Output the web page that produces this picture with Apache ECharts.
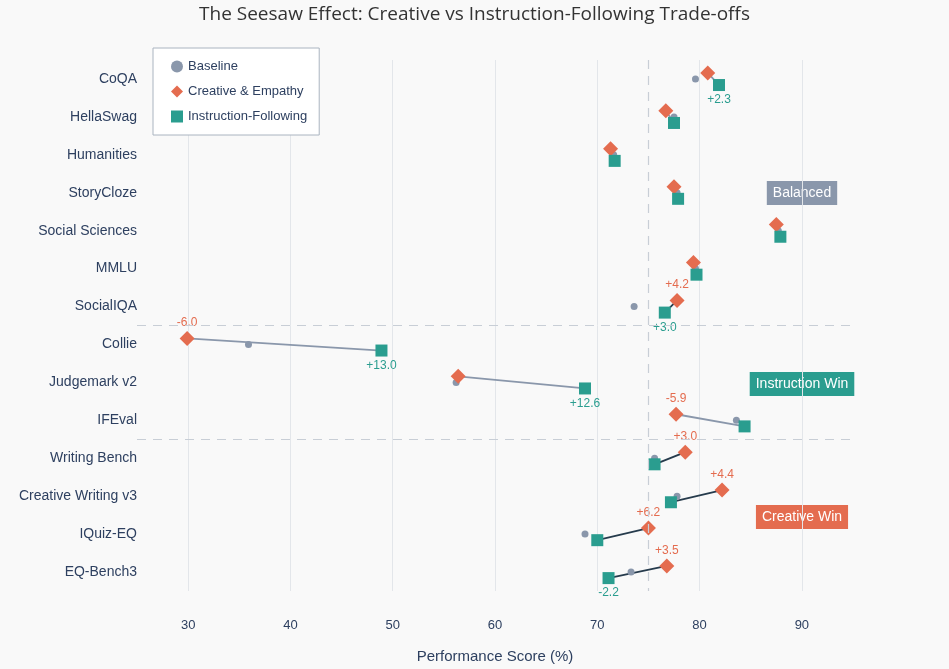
<!DOCTYPE html>
<html>
<head>
<meta charset="utf-8">
<script src="https://cdn.jsdelivr.net/npm/echarts@6/dist/echarts.min.js"></script>
<style>html,body{margin:0;background:#f9f9f9}#chart{width:949px;height:669px}</style>
</head>
<body>
<div id="chart"></div>
<script>
// data, top row first
const benchmarks = ['CoQA', 'HellaSwag', 'Humanities', 'StoryCloze', 'Social Sciences', 'MMLU', 'SocialIQA',
  'Collie', 'Judgemark v2', 'IFEval', 'Writing Bench', 'Creative Writing v3', 'IQuiz-EQ', 'EQ-Bench3'];
const baseline = [79.6, 77.5, 71.6, 77.8, 87.7, 79.6, 73.6, 35.9, 56.2, 83.6, 75.6, 77.8, 68.8, 73.3];
const creative = [80.8, 76.7, 71.3, 77.5, 87.5, 79.4, 77.8, 29.9, 56.4, 77.7, 78.6, 82.2, 75.0, 76.8];
const instruct = [81.9, 77.5, 71.7, 77.9, 87.9, 79.7, 76.6, 48.9, 68.8, 84.4, 75.6, 77.2, 70.0, 71.1];
const groups = ['Balanced', 'Balanced', 'Balanced', 'Balanced', 'Balanced', 'Balanced', 'Balanced',
  'Instruction Win', 'Instruction Win', 'Instruction Win', 'Creative Win', 'Creative Win', 'Creative Win', 'Creative Win'];

const C_BASE = '#8a97ab', C_CRE = '#e46c4f', C_IF = '#2a9d8f', C_DARK = '#263b4c', C_TXT = '#2e4060';
const OFF = 0.16;

const fmtDelta = d => (d > 0 ? '+' : '') + d.toFixed(1);
const delta = (arr, i) => Math.round((arr[i] - baseline[i]) * 10) / 10;

const lineSeries = benchmarks.map((b, i) => ({
  type: 'line', yAxisIndex: 1, silent: true, symbol: 'none', z: 1,
  lineStyle: { width: 1.8, color: (i === 6 || groups[i] === 'Creative Win') ? C_DARK : C_BASE },
  data: [[creative[i], i - OFF], [instruct[i], i + OFF]]
}));

const chart = echarts.init(document.getElementById('chart'));
chart.setOption({
  backgroundColor: '#f9f9f9',
  animation: false,
  title: { text: 'The Seesaw Effect: Creative vs Instruction-Following Trade-offs', left: 'center', top: 0,
    textStyle: { fontFamily: 'Open Sans', fontSize: 19, fontWeight: 'normal', color: '#333' } },
  legend: {
    orient: 'vertical', left: 153, top: 48, padding: [12, 12, 12, 18], itemGap: 12,
    backgroundColor: '#fff', borderColor: '#aab4c0', borderWidth: 1,
    textStyle: { fontSize: 13, color: C_TXT },
    data: [
      { name: 'Baseline', icon: 'circle', itemStyle: { color: C_BASE } },
      { name: 'Creative & Empathy', icon: 'diamond', itemStyle: { color: C_CRE } },
      { name: 'Instruction-Following', icon: 'rect', itemStyle: { color: C_IF } }
    ],
    itemWidth: 12, itemHeight: 12
  },
  grid: { left: 137, right: 96, top: 60, height: 533 },
  xAxis: {
    type: 'value', min: 25, max: 95, interval: 5,
    name: 'Performance Score (%)', nameLocation: 'middle', nameGap: 58,
    nameTextStyle: { fontSize: 15, color: C_TXT },
    axisLine: { show: false }, axisTick: { show: false },
    axisLabel: { color: C_TXT, fontSize: 13, margin: 28, formatter: v => (v % 10 === 0) ? v : '' },
    splitLine: { lineStyle: { color: ['rgba(0,0,0,0)', '#e3e6ea'] } }
  },
  yAxis: [
    { type: 'category', inverse: true, data: benchmarks,
      axisLine: { show: false }, axisTick: { show: false },
      axisLabel: { color: C_TXT, fontSize: 14, margin: 0 }, splitLine: { show: false } },
    { type: 'value', inverse: true, min: -0.5, max: 13.5, show: false }
  ],
  series: [
    ...lineSeries,
    {
      type: 'line', yAxisIndex: 1, data: [], symbol: 'none',
      markLine: { silent: true, symbol: 'none', label: { show: false },
        lineStyle: { type: [9, 7], color: '#c8ced6', width: 1.2 },
        data: [{ xAxis: 75 }, { yAxis: 6.5 }, { yAxis: 9.5 }] }
    },
    {
      name: 'Baseline', type: 'scatter', yAxisIndex: 1, symbol: 'circle', symbolSize: 7, z: 3,
      itemStyle: { color: C_BASE, opacity: 1 },
      data: baseline.map((v, i) => [v, i])
    },
    {
      name: 'Creative & Empathy', type: 'scatter', yAxisIndex: 1, symbol: 'diamond', symbolSize: 15, z: 4,
      itemStyle: { color: C_CRE, opacity: 1 },
      data: creative.map((v, i) => {
        const d = delta(creative, i);
        return { value: [v, i - OFF], label: { show: Math.abs(d) >= 2, formatter: fmtDelta(d) } };
      }),
      label: { position: 'top', distance: 2, color: C_CRE, fontSize: 12 }
    },
    {
      name: 'Instruction-Following', type: 'scatter', yAxisIndex: 1, symbol: 'rect', symbolSize: 12, z: 4,
      itemStyle: { color: C_IF, opacity: 1 },
      data: instruct.map((v, i) => {
        const d = delta(instruct, i);
        return { value: [v, i + OFF], label: { show: Math.abs(d) >= 2, formatter: fmtDelta(d) } };
      }),
      label: { position: 'bottom', distance: 3, color: C_IF, fontSize: 12 }
    }
  ],
  graphic: [
    ['Balanced', 802, 193, C_BASE],
    ['Instruction Win', 802, 384, C_IF],
    ['Creative Win', 802, 517, C_CRE]
  ].map(([t, x, y, c]) => ({
    type: 'text', x: x, y: y,
    style: { text: t, fill: '#fff', fontSize: 14, backgroundColor: c, padding: [5, 6],
      align: 'center', verticalAlign: 'middle' }
  }))
});
</script>
</body>
</html>
